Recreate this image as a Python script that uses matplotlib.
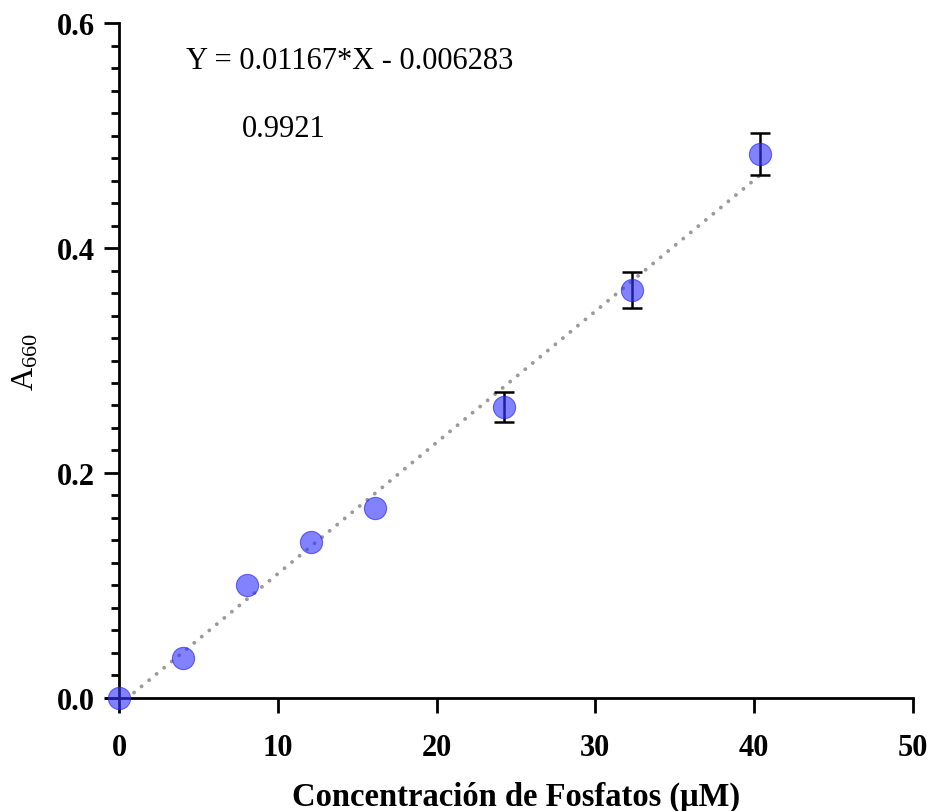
import numpy as np
import matplotlib
matplotlib.use("Agg")
import matplotlib.pyplot as plt

plt.rcParams['font.family'] = ['Liberation Serif', 'DejaVu Serif']
plt.rcParams['mathtext.fontset'] = 'custom'
plt.rcParams['mathtext.rm'] = 'Liberation Serif'
plt.rcParams['mathtext.it'] = 'Liberation Serif:italic'

# standard curve data
conc = [0.0, 4.03, 8.06, 12.09, 16.12, 24.24, 32.3, 40.35]
absorb = [0.0, 0.0356, 0.1004, 0.1387, 0.1690, 0.2587, 0.3627, 0.4836]
err = [0.0, 0.0, 0.0, 0.0, 0.0, 0.0133, 0.016, 0.019]

slope = 0.01167
intercept = -0.006283
r2_text = "0.9921"

fig = plt.figure(figsize=(9.31, 8.12), dpi=100)
ax = fig.add_axes([0.1278, 0.1392, 0.8529, 0.8312])

# fit line (dotted)
xfit = np.linspace(0, conc[-1], 200)
ax.plot(xfit, slope * xfit + intercept, linestyle=(0, (0.01, 2.5)), color='#9a9a9a',
        linewidth=2.8, dash_capstyle='round', zorder=2)

# error bars only where there is one
idx = [i for i in range(len(err)) if err[i] > 0]
ax.errorbar([conc[i] for i in idx], [absorb[i] for i in idx], yerr=[err[i] for i in idx],
            fmt='none', ecolor='black', elinewidth=1.8, capsize=7.5, capthick=1.8, zorder=3)
ax.plot(conc, absorb, 'o', color='#3535ff', alpha=0.62, markersize=16,
        markeredgewidth=0.8, markeredgecolor='#2020ee', zorder=4, clip_on=False)

ax.set_xlim(0, 50)
ax.set_ylim(0, 0.6)
ax.set_xticks([0, 10, 20, 30, 40, 50])
ax.set_yticks([0.0, 0.2, 0.4, 0.6])
ax.set_yticklabels(['0.0', '0.2', '0.4', '0.6'])
ax.set_yticks(np.arange(0, 0.6, 0.02), minor=True)

for side in ['top', 'right']:
    ax.spines[side].set_visible(False)
for side in ['left', 'bottom']:
    ax.spines[side].set_linewidth(2)
ax.spines['bottom'].set_bounds(-0.8, 50)

ax.tick_params(axis='both', which='major', length=11, width=2, labelsize=22, pad=6)
ax.tick_params(axis='y', which='minor', length=6, width=2)
ax.tick_params(axis='x', pad=14)
for lab in ax.get_xticklabels() + ax.get_yticklabels():
    lab.set_fontweight('bold')

ax.set_xlabel('Concentración de Fosfatos (μM)', fontsize=23.5, fontweight='bold', labelpad=14)
ax.set_ylabel('A$_{660}$', fontsize=23, labelpad=12)

ax.text(4.2, 0.567, 'Y = 0.01167*X - 0.006283', fontsize=22, va='center', ha='left')
ax.text(7.75, 0.506, r2_text, fontsize=22, va='center', ha='left')

fig.savefig('out.png', dpi=100)
